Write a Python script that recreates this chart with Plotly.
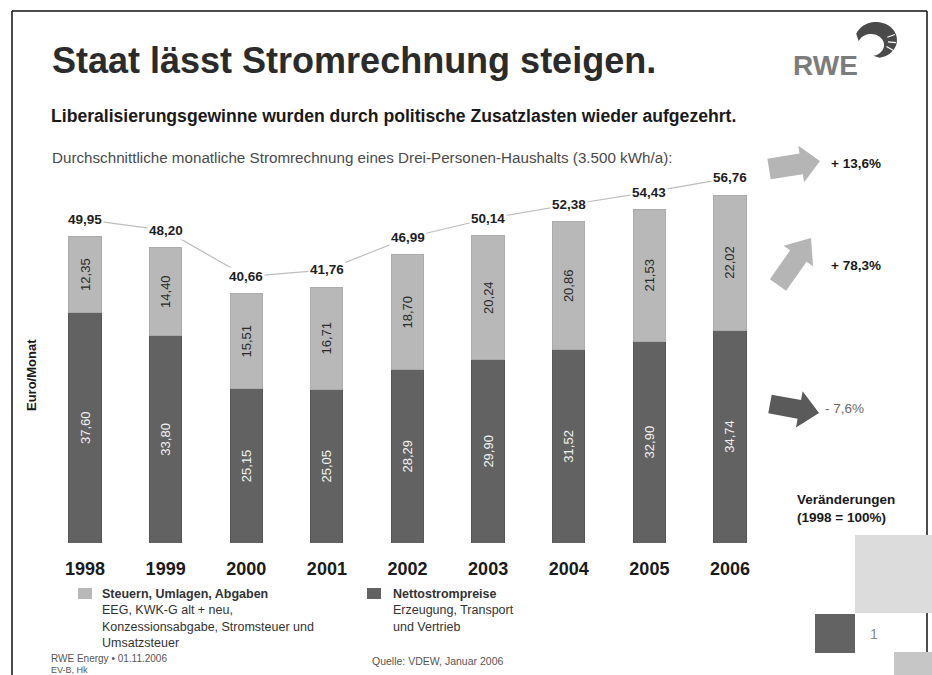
import math
import plotly.graph_objects as go

# ---- data -------------------------------------------------------------
years = ["1998", "1999", "2000", "2001", "2002", "2003", "2004", "2005", "2006"]
net_price = [37.60, 33.80, 25.15, 25.05, 28.29, 29.90, 31.52, 32.90, 34.74]     # Nettostrompreise
state_share = [12.35, 14.40, 15.51, 16.71, 18.70, 20.24, 20.86, 21.53, 22.02]   # Steuern, Umlagen, Abgaben
totals = [49.95, 48.20, 40.66, 41.76, 46.99, 50.14, 52.38, 54.43, 56.76]        # Euro/Monat gesamt

change_labels = ["+ 13,6%", "+ 78,3%", "- 7,6%"]

# ---- style ------------------------------------------------------------
W, H = 932, 675
FONT = "Liberation Sans, Arial, sans-serif"
DARK = "#626262"
LIGHT = "#b8b8b8"
LABEL_LIFT = 2.8   # total labels sit a little above the bar tops


def de(v):
    return f"{v:.2f}".replace(".", ",")


def X(px):
    return px / W


def Y(py):
    return 1 - py / H


def poly(points):
    return "M " + " L ".join(f"{X(a):.4f},{Y(b):.4f}" for a, b in points) + " Z"


def arrow_path(x0, y0, x1, y1, shaft, head, head_len):
    dx, dy = x1 - x0, y1 - y0
    L = math.hypot(dx, dy)
    ux, uy = dx / L, dy / L
    nx, ny = -uy, ux
    bx, by = x1 - ux * head_len, y1 - uy * head_len
    pts = [
        (x0 + nx * shaft / 2, y0 + ny * shaft / 2),
        (bx + nx * shaft / 2, by + ny * shaft / 2),
        (bx + nx * head / 2, by + ny * head / 2),
        (x1, y1),
        (bx - nx * head / 2, by - ny * head / 2),
        (bx - nx * shaft / 2, by - ny * shaft / 2),
        (x0 - nx * shaft / 2, y0 - ny * shaft / 2),
    ]
    return poly(pts)


fig = go.Figure()

fig.add_trace(go.Bar(
    x=years, y=net_price, name="Nettostrompreise",
    marker=dict(color=DARK, line=dict(color="#575757", width=1)),
    text=[de(v) for v in net_price], textposition="inside",
    insidetextanchor="middle", textangle=-90,
    textfont=dict(family=FONT, size=13, color="#f2f2f2"),
    constraintext="none", hoverinfo="skip",
))
fig.add_trace(go.Bar(
    x=years, y=state_share, name="Steuern, Umlagen, Abgaben",
    marker=dict(color=LIGHT, line=dict(color="#ababab", width=1)),
    text=[de(v) for v in state_share], textposition="inside",
    insidetextanchor="middle", textangle=-90,
    textfont=dict(family=FONT, size=13, color="#2a2a2a"),
    constraintext="none", hoverinfo="skip",
))

label_y = [t + LABEL_LIFT for t in totals]
fig.add_trace(go.Scatter(
    x=years, y=label_y, mode="lines",
    line=dict(color="#bdbdbd", width=1.2), hoverinfo="skip",
))

annotations = []
for i, (t, ly) in enumerate(zip(totals, label_y)):
    annotations.append(dict(
        x=i, y=ly, xref="x", yref="y", text=de(t), showarrow=False,
        bgcolor="white", borderpad=1,
        font=dict(family=FONT, size=13.5, color="#1e1e1e", weight="bold"),
    ))


def text(px, py, s, size, color="#222", bold=False, xanchor="left",
         yanchor="middle", align="left", angle=0):
    annotations.append(dict(
        x=X(px), y=Y(py), xref="paper", yref="paper", text=s, showarrow=False,
        xanchor=xanchor, yanchor=yanchor, align=align, textangle=angle,
        font=dict(family=FONT, size=size, color=color,
                  weight="bold" if bold else "normal"),
    ))


# headings
text(50, 61, "Staat lässt Stromrechnung steigen.", 36, "#2b2b2b", bold=True)
text(49, 116, "Liberalisierungsgewinne wurden durch politische Zusatzlasten wieder aufgezehrt.",
     17.6, "#1a1a1a", bold=True)
text(50, 157, "Durchschnittliche monatliche Stromrechnung eines Drei-Personen-Haushalts (3.500 kWh/a):",
     15.2, "#4a4a4a")

# axis title
text(31, 375, "Euro/Monat", 13, "#1a1a1a", bold=True, xanchor="center", angle=-90)

# logo
text(825, 66, "RWE", 28, "#7c7c7c", bold=True, xanchor="center")

# change indicators
text(829, 164, change_labels[0], 13.5, "#1a1a1a", bold=True)
text(829, 266, change_labels[1], 13.5, "#1a1a1a", bold=True)
text(823, 408, change_labels[2], 13.5, "#6a6a6a")

text(795, 499, "Veränderungen", 13.5, "#1a1a1a", bold=True)
text(795, 517, "(1998 = 100%)", 13.5, "#1a1a1a", bold=True)
text(874, 634, "1", 14, "#8a8a8a", xanchor="center")

# legend
text(100, 585, "<b>Steuern, Umlagen, Abgaben</b><br>EEG, KWK-G alt + neu,<br>"
     "Konzessionsabgabe, Stromsteuer und<br>Umsatzsteuer", 12.5, "#333", yanchor="top")
text(391, 585, "<b>Nettostrompreise</b><br>Erzeugung, Transport<br>und Vertrieb",
     12.5, "#333", yanchor="top")

# footer
text(49, 658, "RWE Energy • 01.11.2006", 10, "#555")
text(49, 670, "EV-B, Hk", 9, "#555")
text(370, 661, "Quelle: VDEW, Januar 2006", 10.5, "#555")

shapes = []
# frame
for x0, y0, x1, y1 in [(12, 11, 927, 11), (12, 11, 12, 675), (927, 11, 927, 675)]:
    shapes.append(dict(type="line", xref="paper", yref="paper",
                       x0=X(x0), y0=Y(y0), x1=X(x1), y1=Y(y1),
                       line=dict(color="#111", width=1.5)))

# legend swatches
shapes.append(dict(type="rect", xref="paper", yref="paper",
                   x0=X(78), x1=X(92), y0=Y(599), y1=Y(588),
                   fillcolor=LIGHT, line=dict(width=0)))
shapes.append(dict(type="rect", xref="paper", yref="paper",
                   x0=X(367), x1=X(381), y0=Y(599), y1=Y(588),
                   fillcolor=DARK, line=dict(width=0)))

# arrows
shapes.append(dict(type="path", xref="paper", yref="paper",
                   path=arrow_path(769, 169, 820, 161, 21, 37, 19),
                   fillcolor="#b5b5b5", line=dict(width=0)))
shapes.append(dict(type="path", xref="paper", yref="paper",
                   path=arrow_path(778, 285, 811, 238, 20, 36, 22),
                   fillcolor="#b5b5b5", line=dict(width=0)))
shapes.append(dict(type="path", xref="paper", yref="paper",
                   path=arrow_path(770, 404, 819, 413, 19, 37, 20),
                   fillcolor="#5a5a5a", line=dict(width=0)))

# change squares
shapes.append(dict(type="rect", xref="paper", yref="paper",
                   x0=X(855), x1=X(932), y0=Y(613), y1=Y(535),
                   fillcolor="#dcdcdc", line=dict(width=0)))
shapes.append(dict(type="rect", xref="paper", yref="paper",
                   x0=X(815), x1=X(855), y0=Y(653), y1=Y(614),
                   fillcolor="#636363", line=dict(width=0)))
shapes.append(dict(type="rect", xref="paper", yref="paper",
                   x0=X(894), x1=X(932), y0=Y(675), y1=Y(652),
                   fillcolor="#c6c6c6", line=dict(width=0)))

# logo mark: crescent-shaped hand
outer = [(876 + 21 * math.cos(math.radians(a)), 40 - 18 * math.sin(math.radians(a)))
         for a in range(160, -85, -8)]
inner = [(871 + 13 * math.cos(math.radians(a)), 45 - 11 * math.sin(math.radians(a)))
         for a in range(-80, 165, 8)]
shapes.append(dict(type="path", xref="paper", yref="paper", path=poly(outer + inner),
                   fillcolor="#4a4a4a", line=dict(width=0)))
for a in (20, -5, -30):
    r1, r2 = 11, 19
    shapes.append(dict(type="line", xref="paper", yref="paper",
                       x0=X(877 + r1 * math.cos(math.radians(a))),
                       y0=Y(41 - r1 * math.sin(math.radians(a))),
                       x1=X(877 + r2 * math.cos(math.radians(a))),
                       y1=Y(41 - r2 * math.sin(math.radians(a))),
                       line=dict(color="white", width=1.2)))

x_left, x_right = 44.7, 770.3
y_zero, px_per_unit, y_max = 543, 6.13, 60

fig.update_layout(
    width=W, height=H, margin=dict(l=0, r=0, t=0, b=0),
    paper_bgcolor="white", plot_bgcolor="white",
    barmode="stack", bargap=0.6, showlegend=False,
    font=dict(family=FONT),
    xaxis=dict(domain=[X(x_left), X(x_right)], type="category",
               range=[-0.5, 8.5], showgrid=False, zeroline=False, showline=False,
               ticks="outside", ticklen=9, tickcolor="rgba(0,0,0,0)",
               tickfont=dict(family=FONT, size=18, color="#1a1a1a", weight="bold"),
               fixedrange=True),
    yaxis=dict(domain=[Y(y_zero), Y(y_zero - px_per_unit * y_max)],
               range=[0, y_max], visible=False, fixedrange=True),
    annotations=annotations, shapes=shapes,
)

fig.write_html("out.html")
